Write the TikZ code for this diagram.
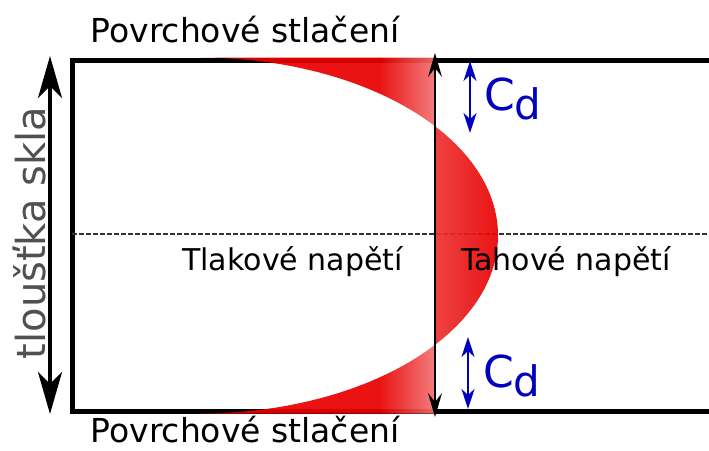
\documentclass[tikz,border=0pt]{standalone}
\usepackage{fontspec}
\setmainfont{DejaVu Sans}
\usetikzlibrary{arrows.meta,positioning}
\definecolor{cdblue}{RGB}{0,0,190}
\definecolor{labelgray}{RGB}{80,80,80}
\definecolor{stressred}{RGB}{232,0,0}
\pgfdeclarehorizontalshading{compression}{100bp}{color(0bp)=(stressred); color(25bp)=(stressred); color(63bp)=(stressred); color(75bp)=(stressred!55); color(100bp)=(stressred!55)}
\newcommand{\Cd}{C\raisebox{-9pt}{\fontsize{42}{44}\selectfont d}}

\begin{document}
\begin{tikzpicture}[x=1pt,y=-1pt,
	glass/.style={line width=5pt, line join=miter},
	midline/.style={line width=1.8pt, black!80, dash pattern=on 5pt off 2pt},
	axis/.style={line width=1.6pt, {Stealth[length=24pt,width=14pt,inset=9pt]}-{Stealth[length=24pt,width=14pt,inset=9pt]}},
	thick arrow/.style={line width=4pt, {Stealth[length=42pt,width=24pt,inset=12pt]}-{Stealth[length=42pt,width=24pt,inset=12pt]}},
	cd arrow/.style={cdblue, line width=2.4pt, {Stealth[length=20pt,width=13pt,inset=6pt]}-{Stealth[length=20pt,width=13pt,inset=6pt]}},
	label/.style={inner sep=0pt, anchor=base}]
	\useasboundingbox (0,0) rectangle (709,450);
	
	\coordinate (topR) at (709,60);
	\coordinate (topL) at (72,60);
	\coordinate (botL) at (72,411);
	\coordinate (botR) at (709,411);
	\coordinate (midL) at (72,234);
	\coordinate (midR) at (709,234);
	\coordinate (axisTop) at (435,53);
	\coordinate (axisBot) at (435,417);
	\coordinate (thickTop) at (50,56);
	\coordinate (thickBot) at (50,414);
	\coordinate (cdTopA) at (470,61);
	\coordinate (cdTopB) at (470,133);
	\coordinate (cdBotA) at (468,337);
	\coordinate (cdBotB) at (468,409);
	
	\draw[glass] (topR) -- (topL) -- (botL) -- (botR);
	\draw[midline] (midL) -- (midR);
	
	% stress profile
	\begin{scope}[even odd rule]
		\clip (199,57.5) rectangle (435,413.5) (199,235.5) ellipse [x radius=299, y radius=178];
		\shade[shading=compression, opacity=0.93] (201,57.5) rectangle (435,413.5);
		\shade[left color=stressred!80, middle color=stressred, right color=stressred, opacity=0.93] (435,57.5) rectangle (500,413.5);
	\end{scope}
	
	\draw[axis] (axisBot) -- (axisTop);
	\draw[thick arrow] (thickBot) -- (thickTop);
	\draw[cd arrow] (cdTopA) -- (cdTopB);
	\draw[cd arrow] (cdBotA) -- (cdBotB);
	
	\node[label, font=\fontsize{33}{40}\selectfont] (surfTop) at (245,42) {Povrchové stlačení};
	\node[label, font=\fontsize{33}{40}\selectfont] (surfBot) at (245,442) {Povrchové stlačení};
	\node[label, font=\fontsize{30}{36}\selectfont] (compr) at (292.5,270) {Tlakové napětí};
	\node[label, font=\fontsize{30}{36}\selectfont] (tens) at (566,270) {Tahové napětí};
	\node[label, rotate=90, text=labelgray, font=\fontsize{40}{48}\selectfont] (thick) at (45,233) {tloušťka skla};
	\node[inner sep=0pt, anchor=base west, text=cdblue, font=\fontsize{44}{50}\selectfont] (cdTop) at (484,110) {\Cd};
	\node[inner sep=0pt, anchor=base west, text=cdblue, font=\fontsize{44}{50}\selectfont] (cdBot) at (483,387) {\Cd};
\end{tikzpicture}
\end{document}
